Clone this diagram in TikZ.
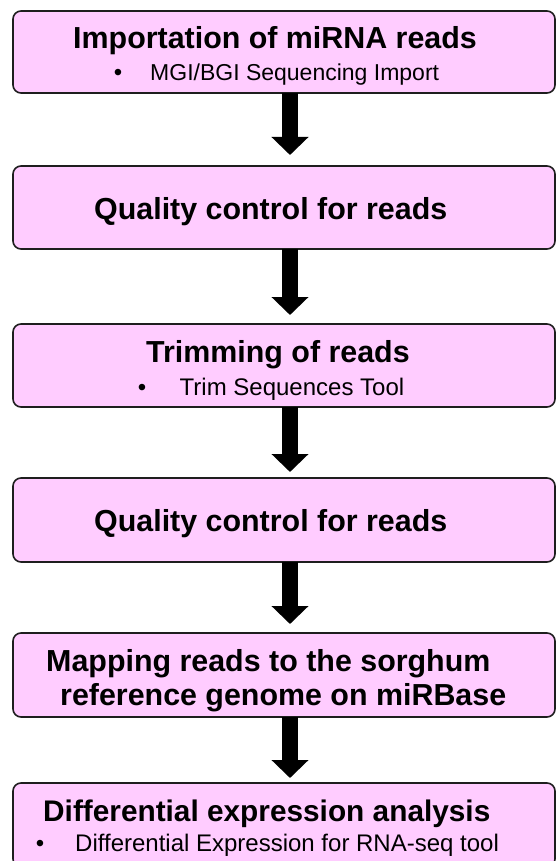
\documentclass[tikz,border=0pt]{standalone}
\usepackage{fontspec}
\setmainfont{Liberation Sans}
\usetikzlibrary{arrows.meta}
\definecolor{boxpink}{RGB}{255,204,255}
\definecolor{boxline}{RGB}{30,30,30}
\tikzset{
  stepbox/.style={draw=boxline, line width=1.6pt, fill=boxpink, rounded corners=8pt,
    minimum width=542pt, inner sep=0pt, outer sep=0pt},
  ttl/.style={font=\fontsize{30.4}{34}\selectfont\bfseries, anchor=base west, inner sep=0pt},
  sub/.style={font=\fontsize{24}{28}\selectfont, anchor=base west, inner sep=0pt},
  bul/.style={font=\fontsize{24}{28}\selectfont, anchor=base, inner sep=0pt},
  flow/.style={line width=16pt, draw=black, -{Triangle[width=36pt,length=18pt]}}
}
\begin{document}
\begin{tikzpicture}[x=1pt,y=-1pt]
\path[use as bounding box] (0,0) rectangle (557,861);
\clip (0,0) rectangle (557,861);
% boxes
\node[stepbox, minimum height=82pt] (b1) at (284,52) {};
\node[stepbox, minimum height=83pt] (b2) at (284,207.5) {};
\node[stepbox, minimum height=83pt] (b3) at (284,365.5) {};
\node[stepbox, minimum height=84pt] (b4) at (284,520) {};
\node[stepbox, minimum height=84pt] (b5) at (284,675) {};
\node[stepbox, minimum height=84pt] (b6) at (284,825) {};
% texts
\node[ttl] (t1) at (73,49) {Importation of miRNA reads};
\node[bul] (u1) at (118,81) {•};
\node[sub, font=\fontsize{23}{27}\selectfont] (s1) at (150,81) {MGI/BGI Sequencing Import};
\node[ttl] (t2) at (94,219) {Quality control for reads};
\node[ttl] (t3) at (146,362) {Trimming of reads};
\node[bul] (u3) at (142,395) {•};
\node[sub] (s3) at (179.5,395) {Trim Sequences Tool};
\node[ttl] (t4) at (94,531) {Quality control for reads};
\node[ttl] (t5a) at (46,671) {Mapping reads to the sorghum};
\node[ttl] (t5b) at (60,705) {reference genome on miRBase};
\node[ttl, font=\fontsize{29.8}{34}\selectfont\bfseries] (t6) at (43,821) {Differential expression analysis};
\node[bul] (u6) at (40,851) {•};
\node[sub] (s6) at (75,851) {Differential Expression for RNA-seq tool};
% arrow tips
\coordinate (p1) at (290,155);
\coordinate (p2) at (290,315);
\coordinate (p3) at (290,472);
\coordinate (p4) at (290,624);
\coordinate (p5) at (290,778);
\draw[flow] (b1.south -| p1) -- (p1);
\draw[flow] (b2.south -| p2) -- (p2);
\draw[flow] (b3.south -| p3) -- (p3);
\draw[flow] (b4.south -| p4) -- (p4);
\draw[flow] (b5.south -| p5) -- (p5);
\end{tikzpicture}
\end{document}
